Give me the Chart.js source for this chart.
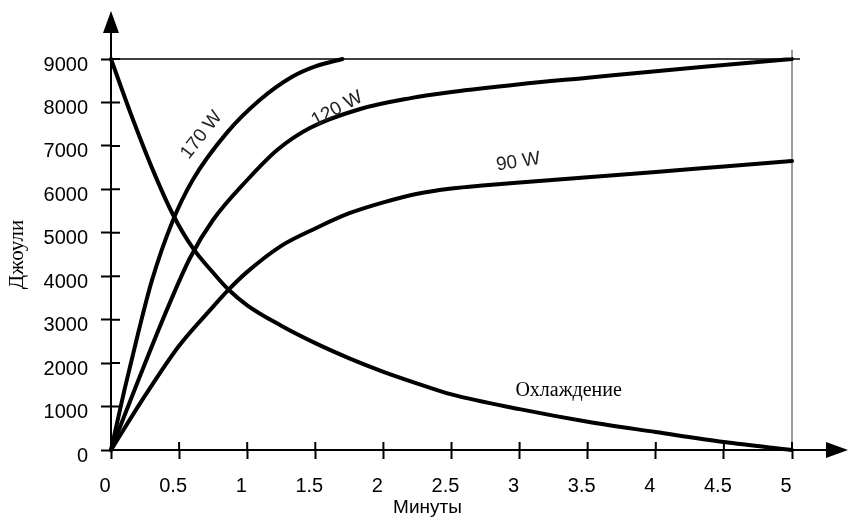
<!DOCTYPE html>
<html>
<head>
<meta charset="utf-8">
<script src="https://cdn.jsdelivr.net/npm/chart.js@4.4.1/dist/chart.umd.min.js"></script>
<style>
html, body { margin: 0; padding: 0; background: #fff; }
canvas { display: block; }
</style>
</head>
<body>
<canvas id="chart" width="851" height="523"></canvas>
<script>
// tick labels
var xTickLabels = ['0', '0.5', '1', '1.5', '2', '2.5', '3', '3.5', '4', '4.5', '5'];
var yTickLabels = ['0', '1000', '2000', '3000', '4000', '5000', '6000', '7000', '8000', '9000'];

// series (minutes -> joules)
var minutes170 = [0, 0.1, 0.2, 0.3, 0.45, 0.6, 0.85, 1.09, 1.33, 1.5, 1.7];
var joules170 = [0, 1400, 2700, 3900, 5250, 6215, 7300, 8050, 8590, 8830, 9000];

var minutes120 = [0, 0.2, 0.4, 0.58, 0.75, 1.0, 1.22, 1.46, 1.83, 2.2, 2.5, 3, 3.5, 4, 4.5, 5];
var joules120 = [0, 1600, 3150, 4420, 5300, 6215, 6906, 7412, 7850, 8100, 8240, 8420, 8570, 8720, 8860, 9000];

var minutes90 = [0, 0.25, 0.5, 0.75, 0.86, 1, 1.25, 1.5, 1.75, 2, 2.25, 2.5, 2.75, 3, 3.5, 4, 4.5, 5];
var joules90 = [0, 1250, 2400, 3300, 3680, 4100, 4700, 5100, 5450, 5700, 5900, 6020, 6095, 6160, 6280, 6400, 6525, 6650];

var minutesCool = [0, 0.15, 0.3, 0.45, 0.6, 0.75, 0.86, 1, 1.25, 1.5, 1.75, 2, 2.25, 2.5, 3, 3.5, 4, 4.5, 5];
var joulesCool = [9000, 7700, 6500, 5450, 4650, 4080, 3700, 3330, 2860, 2460, 2110, 1800, 1530, 1280, 940, 650, 414, 184, 0];

// curve captions, placed in data units
var captions = [
    { text: '170 W', x: 0.665, y: 7250, angle: -52, font: '19px "Liberation Sans", Arial, sans-serif', color: '#222' },
    { text: '120 W', x: 1.66, y: 7850, angle: -28, font: '19px "Liberation Sans", Arial, sans-serif', color: '#222' },
    { text: '90 W', x: 2.99, y: 6630, angle: -9, font: '19px "Liberation Sans", Arial, sans-serif', color: '#222' },
    { text: 'Охлаждение', x: 3.36, y: 1358, angle: 0, font: '20px "Liberation Serif", "Times New Roman", serif', color: '#000' }
];

var xTitle = 'Минуты';
var yTitle = 'Джоули';

function toPoints(xs, ys) {
    var pts = [];
    for (var i = 0; i < xs.length; i++) {
        pts.push({ x: xs[i], y: ys[i] });
    }
    return pts;
}

function curve(label, xs, ys) {
    return {
        label: label,
        data: toPoints(xs, ys),
        borderColor: '#000',
        borderWidth: 4,
        pointRadius: 0,
        fill: false,
        cubicInterpolationMode: 'monotone',
        borderCapStyle: 'round',
        clip: 10
    };
}

var decor = {
    id: 'decor',
    beforeDatasetsDraw: function (chart) {
        var ctx = chart.ctx, xs = chart.scales.x, ys = chart.scales.y;
        var xEnd = xs.getPixelForValue(5), yTop = ys.getPixelForValue(9000);
        ctx.save();
        // 9000 guide line
        ctx.strokeStyle = '#000';
        ctx.lineWidth = 1.5;
        ctx.beginPath();
        ctx.moveTo(xs.left, yTop);
        ctx.lineTo(xEnd + 8, yTop);
        ctx.stroke();
        // 5 min guide line
        ctx.strokeStyle = '#7a7a7a';
        ctx.beginPath();
        ctx.moveTo(xEnd, yTop - 9);
        ctx.lineTo(xEnd, ys.bottom);
        ctx.stroke();
        ctx.restore();
    },
    afterDraw: function (chart) {
        var ctx = chart.ctx, xs = chart.scales.x, ys = chart.scales.y;
        var x0 = xs.getPixelForValue(0), y0 = ys.getPixelForValue(0);
        ctx.save();
        ctx.strokeStyle = '#000';
        ctx.fillStyle = '#000';
        ctx.lineWidth = 2;
        // axis extensions with arrows
        ctx.beginPath();
        ctx.moveTo(x0, ys.top);
        ctx.lineTo(x0, 30);
        ctx.moveTo(xs.right, y0);
        ctx.lineTo(830, y0);
        ctx.stroke();
        ctx.beginPath();
        ctx.moveTo(x0, 11);
        ctx.lineTo(x0 - 8, 33);
        ctx.lineTo(x0 + 8, 33);
        ctx.closePath();
        ctx.fill();
        ctx.beginPath();
        ctx.moveTo(848, y0);
        ctx.lineTo(826, y0 - 8);
        ctx.lineTo(826, y0 + 8);
        ctx.closePath();
        ctx.fill();
        // inner halves of the tick marks
        ctx.beginPath();
        xs.ticks.forEach(function (t) {
            var px = xs.getPixelForValue(t.value);
            ctx.moveTo(px, y0 - 8);
            ctx.lineTo(px, y0);
        });
        ys.ticks.forEach(function (t) {
            var py = ys.getPixelForValue(t.value);
            ctx.moveTo(x0, py);
            ctx.lineTo(x0 + 9, py);
        });
        ctx.stroke();
        // captions
        captions.forEach(function (c) {
            ctx.save();
            ctx.translate(xs.getPixelForValue(c.x), ys.getPixelForValue(c.y));
            ctx.rotate(c.angle * Math.PI / 180);
            ctx.font = c.font;
            ctx.fillStyle = c.color;
            ctx.textAlign = 'center';
            ctx.textBaseline = 'middle';
            ctx.fillText(c.text, 0, 0);
            ctx.restore();
        });
        // x axis title
        ctx.font = '19px "Liberation Sans", Arial, sans-serif';
        ctx.fillStyle = '#000';
        ctx.textAlign = 'center';
        ctx.textBaseline = 'middle';
        ctx.fillText(xTitle, chart.width / 2 + 2, 508);
        ctx.restore();
    }
};

new Chart(document.getElementById('chart'), {
    type: 'line',
    data: {
        datasets: [
            curve('170 W', minutes170, joules170),
            curve('120 W', minutes120, joules120),
            curve('90 W', minutes90, joules90),
            curve('Охлаждение', minutesCool, joulesCool)
        ]
    },
    options: {
        responsive: false,
        animation: false,
        layout: { padding: { left: 0, right: 59, top: 59, bottom: 0 } },
        plugins: {
            legend: { display: false },
            tooltip: { enabled: false }
        },
        scales: {
            x: {
                type: 'linear',
                min: 0,
                max: 5,
                afterFit: function (scale) { scale.height = 73; },
                grid: { drawOnChartArea: false, drawTicks: true, tickLength: 9, tickWidth: 2, tickColor: '#000' },
                border: { display: true, color: '#000', width: 2 },
                ticks: {
                    stepSize: 0.5,
                    padding: 15,
                    labelOffset: -6,
                    color: '#000',
                    font: { family: '"Liberation Sans", Arial, sans-serif', size: 20 },
                    callback: function (v, i) { return xTickLabels[i]; }
                }
            },
            y: {
                min: 0,
                max: 9000,
                afterFit: function (scale) { scale.width = 111; },
                grid: { drawOnChartArea: false, drawTicks: true, tickLength: 10, tickWidth: 2, tickColor: '#000' },
                border: { display: true, color: '#000', width: 2 },
                title: {
                    display: true,
                    text: yTitle,
                    color: '#000',
                    padding: { top: 5, bottom: 0 },
                    font: { family: '"Liberation Serif", "Times New Roman", serif', size: 21 }
                },
                ticks: {
                    stepSize: 1000,
                    padding: 13,
                    labelOffset: 6,
                    color: '#000',
                    font: { family: '"Liberation Sans", Arial, sans-serif', size: 20 },
                    callback: function (v, i) { return yTickLabels[i]; }
                }
            }
        }
    },
    plugins: [decor]
});
</script>
</body>
</html>
